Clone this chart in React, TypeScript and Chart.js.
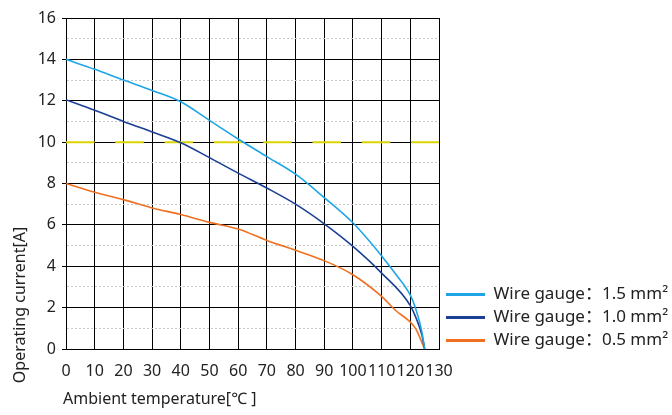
import React, { useEffect, useRef } from "react";
import { Chart, registerables } from "chart.js";

Chart.register(...registerables);

const FONT = '"Noto Sans", "Noto Sans CJK SC", "DejaVu Sans", sans-serif';

const seriesLabels = [
  "Wire gauge：1.5 mm²",
  "Wire gauge：1.0 mm²",
  "Wire gauge：0.5 mm²",
];
const seriesColors = ["#1ea5e6", "#1b3f95", "#f07020"];

const temps15 = [0, 10, 20, 30, 40, 50, 60, 70, 80, 90, 100, 110, 115, 120, 122, 124, 125];
const current15 = [14, 13.52, 13.0, 12.5, 11.95, 11.05, 10.15, 9.3, 8.45, 7.32, 6.1, 4.5, 3.6, 2.6, 1.9, 0.85, 0];

const temps10 = [0, 10, 20, 30, 40, 50, 60, 70, 80, 90, 100, 110, 120, 122, 124, 125];
const current10 = [12.05, 11.54, 11.0, 10.49, 9.97, 9.25, 8.5, 7.78, 7.0, 6.05, 4.96, 3.67, 2.1, 1.5, 0.7, 0];

const temps05 = [0, 10, 20, 30, 40, 50, 60, 70, 80, 90, 100, 110, 115, 120, 122, 125];
const current05 = [8.0, 7.58, 7.22, 6.82, 6.5, 6.12, 5.8, 5.25, 4.77, 4.27, 3.59, 2.54, 1.85, 1.3, 0.95, 0];

const refTemps = [0, 130];
const refCurrent = [10, 10];

const xTitle = "Ambient temperature[℃ ]";
const yTitle = "Operating current[A]";

const toPoints = (xs: number[], ys: number[]) => xs.map((x, i) => ({ x, y: ys[i] }));

const isOdd = (c: any) => !!(c && c.tick && Math.round(c.tick.value) % 2 !== 0);

export default function App() {
  const ref = useRef<HTMLCanvasElement | null>(null);

  useEffect(() => {
    if (!ref.current) return;

    const LEGEND_W = 233;
    const LEGEND_FONT = 17;
    const mctx = document.createElement("canvas").getContext("2d")!;
    mctx.font = `${LEGEND_FONT}px ${FONT}`;
    const textW = Math.max(...seriesLabels.map((s) => mctx.measureText(s).width));
    const legendW = 6 + 39 + LEGEND_FONT / 2 + textW + 10;
    const padRight = Math.max(0, LEGEND_W - legendW);

    const titlePlugin = {
      id: "axisTitles",
      afterDraw(chart: any) {
        const ctx = chart.ctx;
        ctx.save();
        ctx.fillStyle = "#222";
        ctx.font = `16px ${FONT}`;
        ctx.textBaseline = "alphabetic";
        ctx.textAlign = "left";
        ctx.fillText(xTitle, 63, 404);
        ctx.translate(25, 305);
        ctx.rotate(-Math.PI / 2);
        ctx.textAlign = "center";
        ctx.fillText(yTitle, 0, 0);
        ctx.restore();
      },
    };

    const legendShift = {
      id: "legendShift",
      afterLayout(chart: any) {
        const lg = chart.legend;
        if (lg) {
          lg.top += 6;
          lg.bottom += 6;
          lg.left += 1;
          lg.right += 1;
        }
      },
    };

    const curve = (i: number, xs: number[], ys: number[]) => ({
      label: seriesLabels[i],
      data: toPoints(xs, ys),
      borderColor: seriesColors[i],
      backgroundColor: seriesColors[i],
      borderWidth: 1.6,
      pointRadius: 0,
      cubicInterpolationMode: "monotone" as const,
      fill: false,
      order: 1,
    });

    const chart = new Chart(ref.current, {
      type: "line",
      data: {
        datasets: [
          {
            label: "ref",
            data: toPoints(refTemps, refCurrent),
            borderColor: "#dcd400",
            borderWidth: 2,
            borderDash: [28.5, 20.8],
            pointRadius: 0,
            fill: false,
            order: 10,
          },
          curve(0, temps15, current15),
          curve(1, temps10, current10),
          curve(2, temps05, current05),
        ],
      },
      options: {
        responsive: false,
        animation: false,
        devicePixelRatio: 1,
        layout: { padding: { top: 18, left: 0, right: padRight, bottom: 0 } },
        plugins: {
          tooltip: { enabled: false },
          title: { display: false },
          legend: {
            display: true,
            position: "right",
            align: "end",
            fullSize: false,
            maxWidth: LEGEND_W,
            labels: {
              color: "#222",
              font: { family: FONT, size: LEGEND_FONT },
              padding: 6,
              usePointStyle: true,
              pointStyle: "line",
              pointStyleWidth: 39,
              filter: (item: any) => item.datasetIndex !== 0,
              generateLabels: (c: any) =>
                (Chart.defaults.plugins.legend.labels as any)
                  .generateLabels(c)
                  .map((l: any) => ({ ...l, lineWidth: 3, pointStyle: "line" })),
            },
          },
        },
        scales: {
          x: {
            type: "linear",
            min: 0,
            max: 130,
            afterFit: (s: any) => {
              s.height = 66;
            },
            ticks: {
              stepSize: 10,
              autoSkip: false,
              maxRotation: 0,
              minRotation: 0,
              padding: 13,
              color: "#222",
              font: { family: FONT, size: 16 },
            },
            grid: {
              color: "#000",
              lineWidth: 1,
              drawTicks: false,
            },
            border: { color: "#000", width: 1 },
          },
          y: {
            type: "linear",
            min: 0,
            max: 16,
            afterFit: (s: any) => {
              s.width = 66;
            },
            ticks: {
              stepSize: 1,
              autoSkip: false,
              padding: 6,
              color: "#222",
              font: { family: FONT, size: 16 },
              callback: (v: any) => (Math.round(Number(v)) % 2 === 0 ? String(v) : ""),
            },
            grid: {
              color: (c: any) => (isOdd(c) ? "#c8c8c8" : "#000"),
              borderDash: (c: any) => (isOdd(c) ? [2, 2] : []),
              tickColor: (c: any) => (isOdd(c) ? "rgba(0,0,0,0)" : "#000"),
              tickLength: 4,
              lineWidth: 1,
            } as any,
            border: {
              color: "#000",
              width: 1,
              dash: (c: any) => (isOdd(c) ? [2, 2] : []),
            } as any,
          },
        },
      },
      plugins: [titlePlugin, legendShift],
    } as any);

    return () => chart.destroy();
  }, []);

  return (
    <div style={{ position: "absolute", left: 0, top: 0, width: 672, height: 415, background: "#fff" }}>
      <canvas ref={ref} width={672} height={415} style={{ display: "block" }} />
    </div>
  );
}
